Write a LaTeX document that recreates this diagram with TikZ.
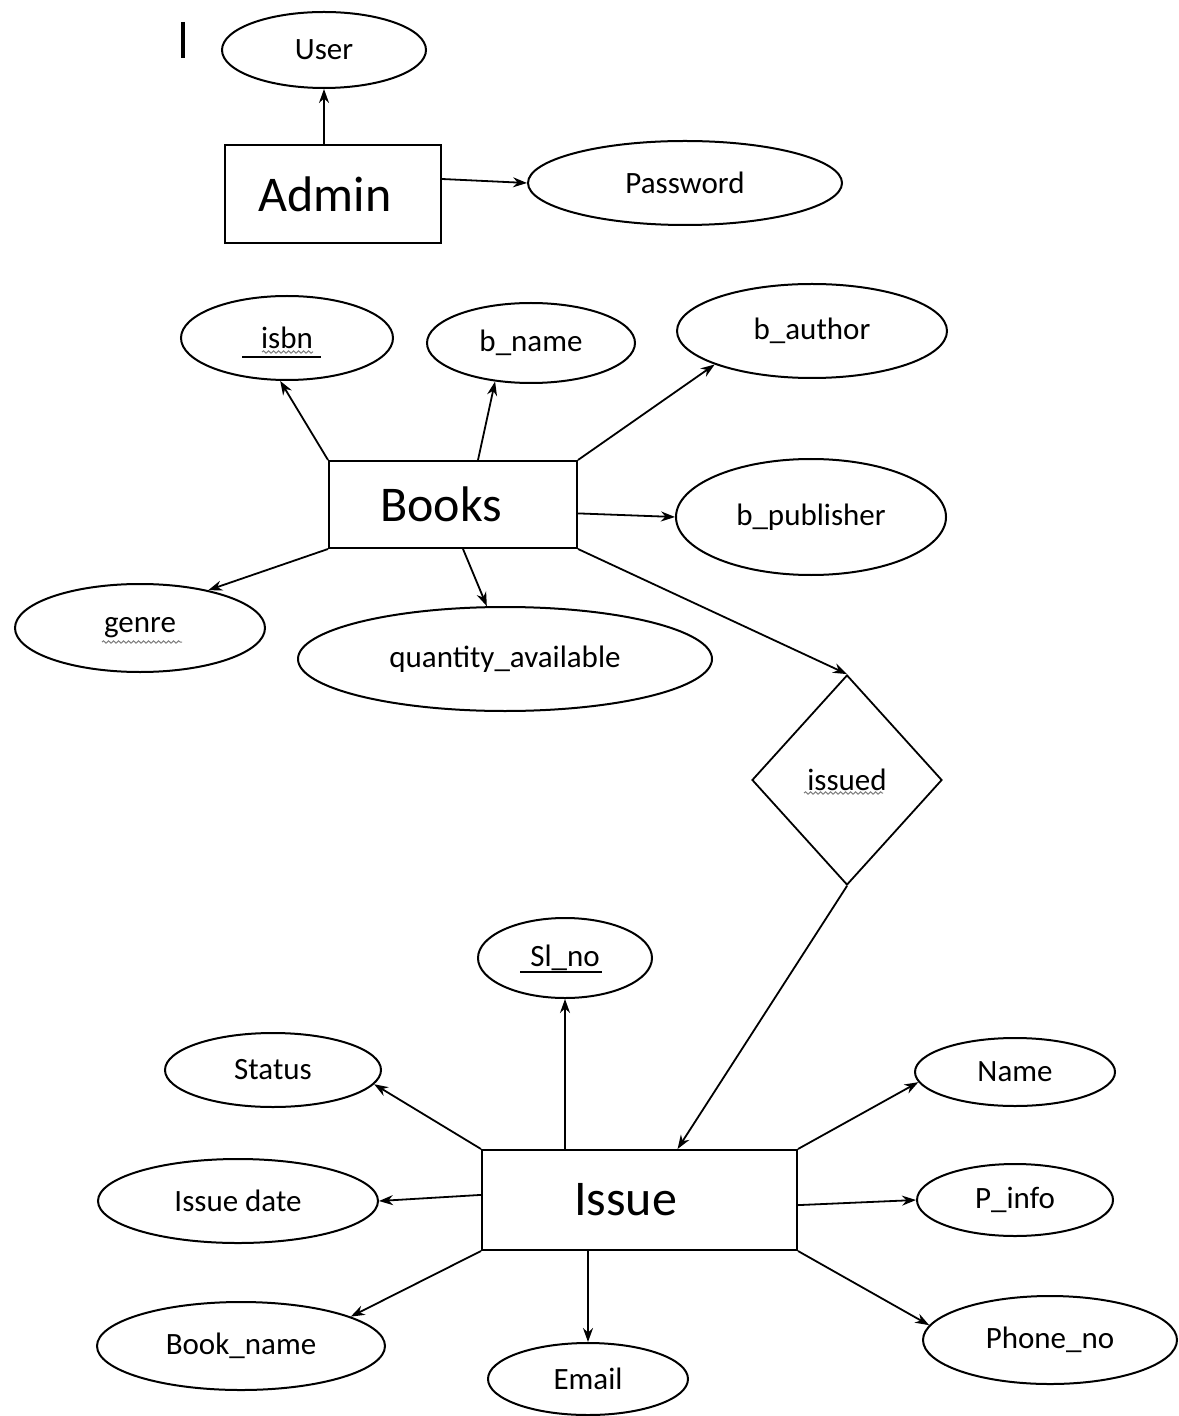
\documentclass[tikz,border=0pt]{standalone}
\usepackage{fontspec}
\setmainfont{Carlito}
\usetikzlibrary{shapes.geometric,arrows.meta,calc,decorations.pathmorphing}
\begin{document}
\begin{tikzpicture}[x=0.5pt,y=-0.5pt,
  attr/.style={draw,ellipse,line width=1pt,inner sep=0pt,font=\fontsize{15.5}{18}\selectfont},
  ent/.style={draw,rectangle,line width=1pt,inner sep=0pt,font=\fontsize{25}{30}\selectfont},
  rel/.style={draw,diamond,line width=0.9pt,inner sep=0pt,font=\fontsize{15.5}{18}\selectfont},
  link/.style={line width=0.9pt,-{Stealth[length=7pt,width=5pt]}},
  squig/.style={gray,line width=0.5pt,decorate,decoration={snake,amplitude=0.6pt,segment length=2.5pt}}]
\useasboundingbox (0,0) rectangle (1178,1416);
% cursor mark
\draw[line width=2pt] (183,22) -- (183,58);
% Admin
\node[ent,minimum width=108pt,minimum height=49pt] (admin) at (333,194) {Admin\hspace*{8pt}};
\node[attr,minimum width=102pt,minimum height=38pt] (user) at (324,50) {User};
\node[attr,minimum width=157pt,minimum height=42pt] (password) at (685,183) {Password};
\draw[link] (admin.north -| user.south) -- (user.south);
\draw[link] ($(admin.north east)!0.35!(admin.south east)$) -- (password.west);
% Books
\node[ent,minimum width=124pt,minimum height=43.5pt] (books) at (453,504.5) {Books\hspace*{12pt}};
\node[attr,minimum width=106pt,minimum height=42pt] (isbn) at (287,338) {isbn};
\node[attr,minimum width=104pt,minimum height=40pt] (bname) at (531,343) {b\_name};
\node[attr,minimum width=135pt,minimum height=47pt] (bauthor) at (812,331) {b\_author};
\node[attr,minimum width=135pt,minimum height=58pt] (bpub) at (811,517) {b\_publisher};
\node[attr,minimum width=125pt,minimum height=44pt] (genre) at (140,628) {genre};
\node[attr,minimum width=207pt,minimum height=52pt] (qty) at (505,659) {quantity\_available};
\node[rel,minimum width=95pt,minimum height=105pt] (issued) at (847,780) {issued};
\coordinate (bA) at (books.north west);
\coordinate (bB) at ($(books.north west)!0.6!(books.north east)$);
\coordinate (bC) at (books.north east);
\coordinate (bD) at ($(books.north east)!0.6!(books.south east)$);
\coordinate (bE) at (books.south west);
\coordinate (bF) at ($(books.south west)!0.54!(books.south east)$);
\coordinate (bG) at (books.south east);
\draw[link] (bA) -- (isbn.261);
\draw[link] (bB) -- (bname.227);
\draw[link] (bC) -- (bauthor.199);
\draw[link] (bD) -- (bpub.west);
\draw[link] (bE) -- (genre.29);
\draw[link] (bF) -- (qty.109);
\draw[link] (bG) -- (issued.north);
% underlines and squiggles
\draw[line width=0.8pt] ($(isbn.center)+(-45,19)$) -- ($(isbn.center)+(34,19)$);
\draw[squig] ($(isbn.center)+(-25,14)$) -- ($(isbn.center)+(26,14)$);
\draw[squig] ($(genre.center)+(-38,14)$) -- ($(genre.center)+(42,14)$);
\draw[squig] ($(issued.center)+(-43,13)$) -- ($(issued.center)+(36,13)$);
% Issue
\node[ent,minimum width=157.5pt,minimum height=50pt] (issue) at (639.5,1200) {Issue\hspace*{14pt}};
\node[attr,minimum width=87pt,minimum height=40pt] (slno) at (565,958) {Sl\_no};
\draw[line width=0.8pt] ($(slno.center)+(-45,14)$) -- ($(slno.center)+(37,14)$);
\node[attr,minimum width=108pt,minimum height=37pt] (status) at (273,1070) {Status};
\node[attr,minimum width=140pt,minimum height=42pt] (idate) at (238,1201) {Issue date};
\node[attr,minimum width=144pt,minimum height=44pt] (bookname) at (241,1346) {Book\_name};
\node[attr,minimum width=100pt,minimum height=36pt] (email) at (588,1379) {Email};
\node[attr,minimum width=100pt,minimum height=34pt] (name) at (1015,1072) {Name};
\node[attr,minimum width=98pt,minimum height=36pt] (pinfo) at (1015,1200) {P\_info};
\node[attr,minimum width=127pt,minimum height=44pt] (phone) at (1050,1340) {Phone\_no};
\draw[link] (issued.south) -- ($(issue.north west)!0.62!(issue.north east)$);
\draw[link] (issue.north -| slno.south) -- (slno.south);
\draw[link] (issue.north west) -- (status.-8);
\draw[link] ($(issue.north west)!0.45!(issue.south west)$) -- (idate.east);
\draw[link] (issue.south west) -- (bookname.15);
\draw[link] (issue.south -| email.north) -- (email.north);
\draw[link] (issue.north east) -- (name.186);
\draw[link] ($(issue.north east)!0.55!(issue.south east)$) -- (pinfo.west);
\draw[link] (issue.south east) -- (phone.173);
\end{tikzpicture}
\end{document}
